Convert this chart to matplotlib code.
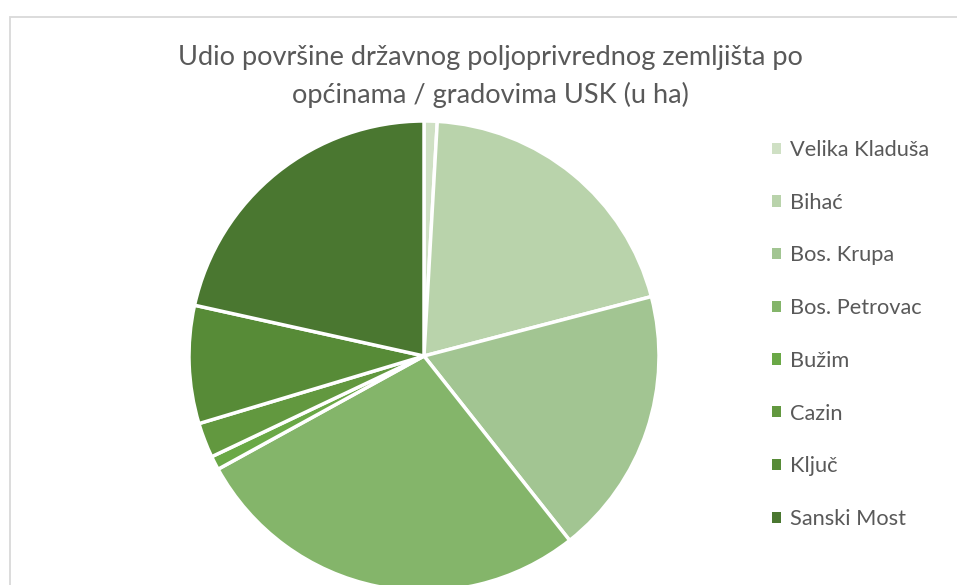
import matplotlib.pyplot as plt
from matplotlib.patches import Rectangle, Patch

plt.rcParams['font.family'] = ['Lato', 'DejaVu Sans']

# share of state agricultural land per municipality (approx., %)
municipalities = ['Velika Kladuša', 'Bihać', 'Bos. Krupa', 'Bos. Petrovac',
                  'Bužim', 'Cazin', 'Ključ', 'Sanski Most']
shares = [0.9, 20.0, 18.4, 27.6, 0.95, 2.4, 8.1, 21.5]
colors = ['#cfe0c4', '#b9d3ab', '#a2c592', '#84b56a',
          '#6aa846', '#62983f', '#578b37', '#4a7730']

W, H = 957, 585
fig = plt.figure(figsize=(W / 100, H / 100), dpi=100)

# chart border (right and bottom edges are outside the picture)
fig.add_artist(Rectangle((9.5 / W, -0.1), 1.2, (H - 16.5) / H + 0.1,
                         transform=fig.transFigure, fill=False,
                         edgecolor='#d9d9d9', linewidth=1.3))

cx, cy, r = 424, 356, 235
ax = fig.add_axes([(cx - r) / W, (H - cy - r) / H, 2 * r / W, 2 * r / H])
ax.pie(shares, colors=colors, startangle=90, counterclock=False,
       wedgeprops=dict(edgecolor='white', linewidth=2.5))
ax.set_xlim(-1, 1)
ax.set_ylim(-1, 1)
ax.set_aspect('equal')
ax.axis('off')

fig.text(490 / W, 1 - 57 / H, 'Udio površine državnog poljoprivrednog zemljišta po',
         ha='center', va='center', fontsize=19.5, color='#595959')
fig.text(490 / W, 1 - 95 / H, 'općinama / gradovima USK (u ha)',
         ha='center', va='center', fontsize=19.5, color='#595959')

handles = [Patch(facecolor=c, edgecolor='none') for c in colors]
fig.legend(handles, municipalities, loc='upper left',
           bbox_to_anchor=(772 / W, 1 - 140 / H), frameon=False,
           borderpad=0, borderaxespad=0,
           fontsize=15.7, labelcolor='#595959', handlelength=0.42,
           handleheight=0.42, handletextpad=0.42, labelspacing=1.5)

fig.savefig('out.png', dpi=100, facecolor='white')
